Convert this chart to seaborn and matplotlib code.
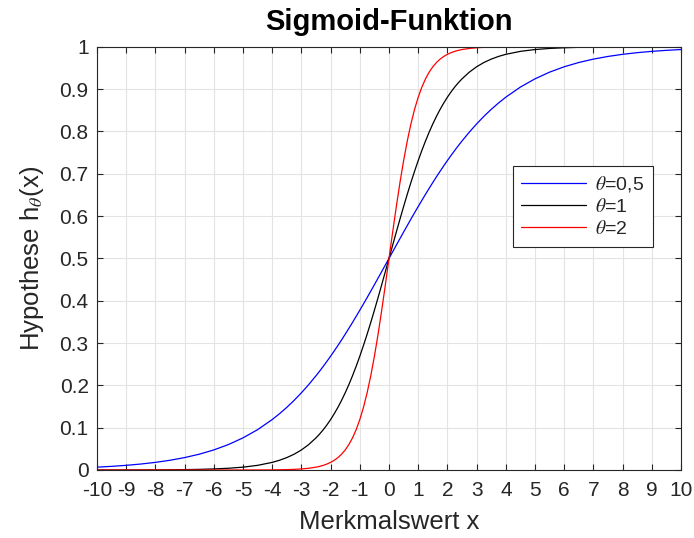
import matplotlib
matplotlib.use("Agg")
import matplotlib.pyplot as plt
import seaborn as sns
import pandas as pd

# x positions
x_vals = [-10, -9.5, -9, -8.5, -8, -7.5, -7, -6.5, -6, -5.5, -5, -4.5, -4,
          -3.75, -3.5, -3.25, -3, -2.75,
          -2.5, -2.375, -2.25, -2.125, -2, -1.875, -1.75, -1.625, -1.5, -1.375, -1.25, -1.125,
          -1, -0.875, -0.75, -0.625, -0.5, -0.375, -0.25, -0.125,
          0,
          0.125, 0.25, 0.375, 0.5, 0.625, 0.75, 0.875, 1, 1.125, 1.25, 1.375, 1.5, 1.625, 1.75, 1.875,
          2, 2.125, 2.25, 2.375, 2.5,
          2.75, 3, 3.25, 3.5, 3.75,
          4, 4.5, 5, 5.5, 6, 6.5, 7, 7.5, 8, 8.5, 9, 9.5, 10]

y_theta05 = [0.0067, 0.0086, 0.0110, 0.0141, 0.0180, 0.0230, 0.0293, 0.0373, 0.0474, 0.0601, 0.0759, 0.0953, 0.1192,
             0.1330, 0.1480, 0.1645, 0.1824, 0.2018,
             0.2227, 0.2337, 0.2451, 0.2568, 0.2689, 0.2814, 0.2942, 0.3073, 0.3208, 0.3346, 0.3486, 0.3630,
             0.3775, 0.3923, 0.4073, 0.4225, 0.4378, 0.4533, 0.4688, 0.4844,
             0.5000,
             0.5156, 0.5312, 0.5467, 0.5622, 0.5775, 0.5927, 0.6077, 0.6225, 0.6370, 0.6514, 0.6654, 0.6792, 0.6927, 0.7058, 0.7186,
             0.7311, 0.7432, 0.7549, 0.7663, 0.7773,
             0.7982, 0.8176, 0.8355, 0.8520, 0.8670,
             0.8808, 0.9047, 0.9241, 0.9399, 0.9526, 0.9627, 0.9707, 0.9770, 0.9820, 0.9859, 0.9890, 0.9914, 0.9933]

y_theta1 = [0.00005, 0.00007, 0.00012, 0.0002, 0.0003, 0.0006, 0.0009, 0.0015, 0.0025, 0.0041, 0.0067, 0.0110, 0.0180,
            0.0230, 0.0293, 0.0373, 0.0474, 0.0601,
            0.0759, 0.0851, 0.0953, 0.1067, 0.1192, 0.1330, 0.1480, 0.1645, 0.1824, 0.2018, 0.2227, 0.2451,
            0.2689, 0.2942, 0.3208, 0.3486, 0.3775, 0.4073, 0.4378, 0.4688,
            0.5000,
            0.5312, 0.5622, 0.5927, 0.6225, 0.6514, 0.6792, 0.7058, 0.7311, 0.7549, 0.7773, 0.7982, 0.8176, 0.8355, 0.8520, 0.8670,
            0.8808, 0.8933, 0.9047, 0.9149, 0.9241,
            0.9399, 0.9526, 0.9627, 0.9707, 0.9770,
            0.9820, 0.9890, 0.9933, 0.9959, 0.9975, 0.9985, 0.9991, 0.9994, 0.9997, 0.9998, 0.99988, 0.99993, 0.99995]

y_theta2 = [0.0, 0.0, 0.0, 0.0, 0.0, 0.0, 0.0, 0.0, 0.0, 0.0, 0.00005, 0.0001, 0.0003,
            0.0006, 0.0009, 0.0015, 0.0025, 0.0041,
            0.0067, 0.0086, 0.0110, 0.0141, 0.0180, 0.0230, 0.0293, 0.0373, 0.0474, 0.0601, 0.0759, 0.0953,
            0.1192, 0.1480, 0.1824, 0.2227, 0.2689, 0.3208, 0.3775, 0.4378,
            0.5000,
            0.5622, 0.6225, 0.6792, 0.7311, 0.7773, 0.8176, 0.8520, 0.8808, 0.9047, 0.9241, 0.9399, 0.9526, 0.9627, 0.9707, 0.9770,
            0.9820, 0.9859, 0.9890, 0.9914, 0.9933,
            0.9959, 0.9975, 0.9985, 0.9991, 0.9994,
            0.9997, 0.9999, 1.0, 1.0, 1.0, 1.0, 1.0, 1.0, 1.0, 1.0, 1.0, 1.0, 1.0]

series_labels = [r"$\theta$=0,5", r"$\theta$=1", r"$\theta$=2"]
series_colors = ["#0000ff", "#000000", "#ff0000"]

x_ticks = list(range(-10, 11))
y_ticks = [0, 0.1, 0.2, 0.3, 0.4, 0.5, 0.6, 0.7, 0.8, 0.9, 1.0]
y_tick_labels = ["0", "0.1", "0.2", "0.3", "0.4", "0.5", "0.6", "0.7", "0.8", "0.9", "1"]

sns.set_style("whitegrid")
plt.rcParams["font.family"] = ["Liberation Sans", "DejaVu Sans"]
plt.rcParams["mathtext.fontset"] = "stix"

frames = []
for lab, ys in zip(series_labels, [y_theta05, y_theta1, y_theta2]):
    frames.append(pd.DataFrame({"x": x_vals, "y": ys, "theta": lab}))
df = pd.concat(frames, ignore_index=True)

fig = plt.figure(figsize=(6.94, 5.38), dpi=100)
ax = fig.add_axes([0.1398, 0.1264, 0.8415, 0.7868])

sns.lineplot(data=df, x="x", y="y", hue="theta", palette=dict(zip(series_labels, series_colors)),
             linewidth=0.9, ax=ax, sort=False)

ax.set_xlim(-10, 10)
ax.set_ylim(0, 1)
ax.set_xticks(x_ticks)
ax.set_xticklabels([str(t) for t in x_ticks])
ax.set_yticks(y_ticks)
ax.set_yticklabels(y_tick_labels)

ax.grid(True, color="#e3e3e3", linewidth=0.8)
for s in ax.spines.values():
    s.set_visible(True)
    s.set_color("#262626")
    s.set_linewidth(0.8)
ax.tick_params(axis="both", direction="in", length=4.5, width=0.8, color="#262626",
               labelsize=15, labelcolor="#262626", top=True, right=True, bottom=True, left=True)
ax.tick_params(axis="x", pad=8)
ax.tick_params(axis="y", pad=6)

ax.set_title("Sigmoid-Funktion", fontsize=21, fontweight="bold", pad=12, color="black")
ax.set_xlabel("Merkmalswert x", fontsize=18.5, color="#262626", labelpad=7)
ax.set_ylabel(r"Hypothese h$_{\theta}$(x)", fontsize=18.5, color="#262626", labelpad=10)

leg = ax.legend(loc="upper right", bbox_to_anchor=(0.952, 0.719), borderaxespad=0, fontsize=14,
                frameon=True, fancybox=False, edgecolor="#262626", framealpha=1, handlelength=3.3,
                borderpad=0.45, labelspacing=0.2, handletextpad=0.5, title=None)
leg.get_frame().set_linewidth(0.8)

fig.savefig("out.png", dpi=100)
